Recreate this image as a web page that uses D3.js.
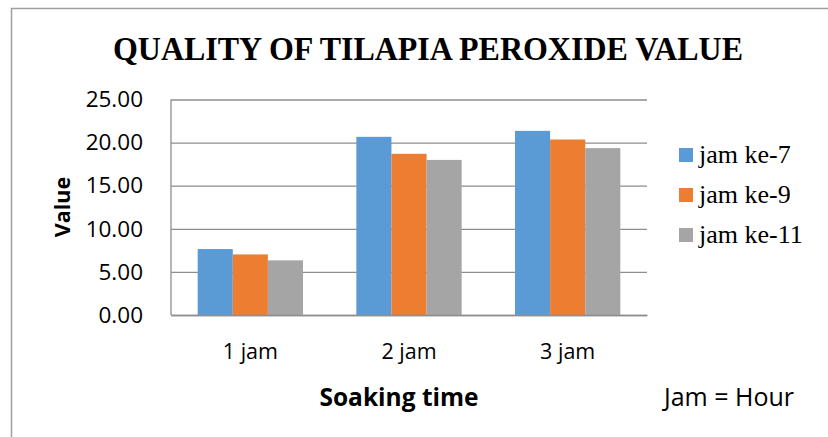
<!DOCTYPE html>
<html>
<head>
<meta charset="utf-8">
<script src="https://cdn.jsdelivr.net/npm/d3@7"></script>
<style>
  html, body { margin: 0; padding: 0; background: #fff; }
  svg { display: block; }
</style>
</head>
<body>
<svg id="chart" width="828" height="437"></svg>
<script>
// Soaking time groups and the three sampling hours
const categories = ["1 jam", "2 jam", "3 jam"];
const seriesNames = ["jam ke-7", "jam ke-9", "jam ke-11"];
const jamKe7 = [7.65, 20.67, 21.36];
const jamKe9 = [7.03, 18.70, 20.36];
const jamKe11 = [6.34, 17.99, 19.36];
const yTicks = [0, 5, 10, 15, 20, 25];
const colors = ["#5B9BD5", "#ED7D31", "#A5A5A5"];

const seriesValues = [jamKe7, jamKe9, jamKe11];
const rows = categories.map((c, i) => ({
  category: c,
  values: seriesNames.map((s, j) => ({ series: s, value: seriesValues[j][i] }))
}));

const svg = d3.select("#chart");
const plot = { left: 171, right: 647, top: 99.5, bottom: 315 };

// Outer chart frame (runs off the right and bottom edges)
svg.append("rect")
  .attr("x", 11.5).attr("y", 8.5)
  .attr("width", 900).attr("height", 500)
  .attr("fill", "none").attr("stroke", "#9f9f9f").attr("stroke-width", 1.5);

// Title
svg.append("text")
  .attr("x", 428).attr("y", 60)
  .attr("text-anchor", "middle")
  .attr("font-family", "'Liberation Serif', 'Times New Roman', serif")
  .attr("font-weight", "bold")
  .attr("font-size", 33)
  .attr("textLength", 630)
  .attr("lengthAdjust", "spacingAndGlyphs")
  .text("QUALITY OF TILAPIA PEROXIDE VALUE");

const x0 = d3.scaleBand().domain(categories).range([plot.left, plot.right]).padding(0);
const x1 = d3.scaleBand().domain(seriesNames).range([0, x0.bandwidth()])
  .paddingInner(0).paddingOuter(0.76);
const y = d3.scaleLinear().domain([0, 25]).range([plot.bottom, plot.top]);
const color = d3.scaleOrdinal().domain(seriesNames).range(colors);

// Horizontal gridlines with tick labels
const yAxis = d3.axisLeft(y)
  .tickValues(yTicks)
  .tickSize(-(plot.right - plot.left))
  .tickPadding(28)
  .tickFormat(d3.format(".2f"));

const gy = svg.append("g")
  .attr("transform", `translate(${plot.left},0)`)
  .call(yAxis);
gy.select(".domain").remove();
gy.selectAll(".tick line").attr("stroke", "#8e8e8e").attr("stroke-width", 1.3);
gy.selectAll(".tick text")
  .attr("font-family", "'Open Sans', sans-serif")
  .attr("font-size", 22.5)
  .attr("fill", "#000");

// Vertical value axis line
svg.append("line")
  .attr("x1", plot.left).attr("x2", plot.left)
  .attr("y1", plot.top).attr("y2", plot.bottom)
  .attr("stroke", "#8e8e8e").attr("stroke-width", 1.3);

// Bars
const groups = svg.append("g").selectAll("g")
  .data(rows)
  .join("g")
  .attr("transform", d => `translate(${x0(d.category)},0)`);

groups.selectAll("rect")
  .data(d => d.values)
  .join("rect")
  .attr("x", d => x1(d.series))
  .attr("width", x1.bandwidth())
  .attr("y", d => y(d.value))
  .attr("height", d => y(0) - y(d.value))
  .attr("fill", d => color(d.series));

// Category axis
const xAxis = d3.axisBottom(x0).tickSize(0).tickPadding(29);
const gx = svg.append("g")
  .attr("transform", `translate(0,${plot.bottom})`)
  .call(xAxis);
gx.select(".domain").attr("stroke", "#8e8e8e").attr("stroke-width", 1.3);
gx.selectAll(".tick text")
  .attr("font-family", "'Open Sans', sans-serif")
  .attr("font-size", 21.5)
  .attr("fill", "#000");

// Axis titles
svg.append("text")
  .attr("transform", `translate(70,207) rotate(-90)`)
  .attr("text-anchor", "middle")
  .attr("font-family", "'Open Sans', sans-serif")
  .attr("font-weight", "bold")
  .attr("font-size", 21.5)
  .text("Value");

svg.append("text")
  .attr("x", 399).attr("y", 406)
  .attr("text-anchor", "middle")
  .attr("font-family", "'Open Sans', sans-serif")
  .attr("font-weight", "bold")
  .attr("font-size", 24.5)
  .text("Soaking time");

svg.append("text")
  .attr("x", 664).attr("y", 406)
  .attr("font-family", "'Open Sans', sans-serif")
  .attr("font-size", 25)
  .text("Jam = Hour");

// Legend
const legend = svg.append("g").selectAll("g")
  .data(seriesNames)
  .join("g")
  .attr("transform", (d, i) => `translate(679,${148 + i * 40})`);
legend.append("rect")
  .attr("width", 14).attr("height", 14)
  .attr("fill", d => color(d));
legend.append("text")
  .attr("x", 20).attr("y", 15)
  .attr("font-family", "'Liberation Serif', 'Times New Roman', serif")
  .attr("font-size", 26)
  .text(d => d);
</script>
</body>
</html>
